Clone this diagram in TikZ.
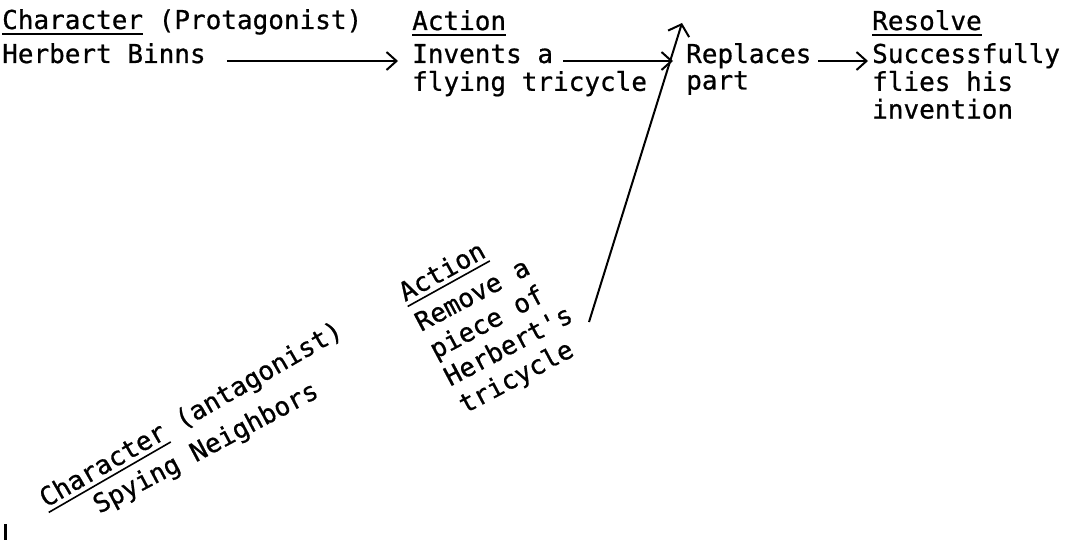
\documentclass[tikz,border=0pt]{standalone}
\usepackage{fontspec}
\newfontfamily\tw{DejaVu Sans Mono}[FakeBold=0.7]
\usetikzlibrary{arrows.meta}
\newsavebox\hdrbox
\newcommand\hdr[1]{\sbox\hdrbox{#1}\rlap{\rule[-6pt]{\wd\hdrbox}{1.6pt}}\usebox\hdrbox}
\newcommand\lines[1]{\begin{tabular}[t]{@{}l@{}}#1\end{tabular}}
\begin{document}
\begin{tikzpicture}[x=1pt,y=-1pt,
  txt/.style={font=\tw\fontsize{26}{26.5}\selectfont, inner sep=0pt, anchor=base west},
  rtxt/.style={font=\tw\fontsize{26}{31}\selectfont, inner sep=0pt, anchor=base west},
  arr/.style={line width=2pt, -{Straight Barb[length=10pt,width=18pt]}},
  longarr/.style={line width=2pt, -{Straight Barb[length=10pt,width=22pt]}}]
\useasboundingbox (0,0) rectangle (1066,543);
% protagonist
\node[txt] (charP) at (2,29) {\hdr{Character} (Protagonist)};
\node[txt] (herbert) at (2,63) {Herbert Binns};
% action 1
\node[txt] (action1) at (412,30) {\hdr{Action}};
\node[txt] (invents) at (412,63) {\lines{Invents a\\flying tricycle}};
% replaces
\node[txt] (replaces) at (686,63) {\lines{Replaces\\part}};
% resolve
\node[txt] (resolve) at (872,30) {\hdr{Resolve}};
\node[txt] (success) at (872,63) {\lines{Successfully\\flies his\\invention}};
% antagonist action
\node[rtxt, rotate=29] (action2) at (405,302) {\hdr{Action}};
\node[rtxt, rotate=28] (remove) at (421,332) {\lines{Remove a\\piece of\\Herbert's\\tricycle}};
% antagonist
\node[rtxt, rotate=30] (charA) at (46,508) {\hdr{Character} (antagonist)};
\node[rtxt, rotate=28] (spying) at (99,514) {Spying Neighbors};
% connectors
\coordinate (ls) at (589,322);
\coordinate (lt) at (682,23);
\draw[arr] ([shift={(21,-2)}]herbert.base east) -- ([shift={(-14,-2)}]invents.base west);
\draw[arr] ([shift={(151,-2)}]invents.base west) -- ([shift={(-13,-2)}]replaces.base west);
\draw[arr] ([shift={(132,-2)}]replaces.base west) -- ([shift={(-4,-2)}]success.base west);
\draw[longarr] (ls) -- (lt);
% stray mark
\draw[line width=3pt] (5,524) -- (5,540);
\end{tikzpicture}
\end{document}
